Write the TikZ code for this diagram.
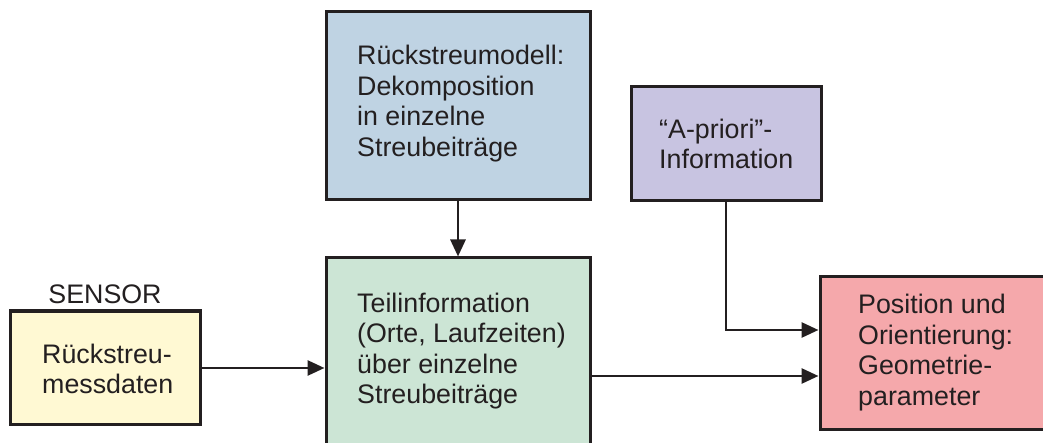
\documentclass[tikz,border=0pt]{standalone}
\usepackage{fontspec}
\setmainfont{Liberation Sans}
\usetikzlibrary{arrows.meta,positioning}
\definecolor{edge}{HTML}{231F20}
\definecolor{modelblue}{HTML}{BFD3E3}
\definecolor{sensoryellow}{HTML}{FFF9D3}
\definecolor{partgreen}{HTML}{CCE5D5}
\definecolor{priorviolet}{HTML}{C8C4E1}
\definecolor{resultpink}{HTML}{F5A8AB}
\tikzset{
  blockbox/.style={draw=edge, line width=3pt, rectangle, inner sep=0pt},
  blocktext/.style={anchor=west, align=left, inner sep=0pt,
    font=\fontsize{26.8}{30.5}\selectfont, text=edge},
  flow/.style={draw=edge, line width=2.8pt,
    -{Triangle[length=17pt,width=15pt]}},
}
\begin{document}
\begin{tikzpicture}[x=1pt,y=-1pt]
  \useasboundingbox (0,0) rectangle (1043,443);
  \clip (0,0) rectangle (1043,443);
  % blocks
  \node[blockbox, fill=modelblue, minimum width=264pt, minimum height=188pt]
    (model) at (458,106) {};
  \node[blockbox, fill=sensoryellow, minimum width=190pt, minimum height=113pt]
    (sensor) at (105,367.5) {};
  \node[blockbox, fill=partgreen, minimum width=264pt, minimum height=188pt]
    (part) at (458,352) {};
  \node[blockbox, fill=priorviolet, minimum width=190pt, minimum height=114pt]
    (prior) at (726,144) {};
  \node[blockbox, fill=resultpink, minimum width=230pt, minimum height=152pt]
    (result) at (935,353) {};
  % texts
  \node[blocktext] (modeltxt) at (357,103.5)
    {Rückstreumodell:\\Dekomposition\\in einzelne\\Streubeiträge};
  \node[blocktext] (sensortxt) at (42,369)
    {Rückstreu-\\messdaten};
  \node[blocktext] (parttxt) at (357,351)
    {Teilinformation\\(Orte, Laufzeiten)\\über einzelne\\Streubeiträge};
  \node[blocktext] (priortxt) at (659,144)
    {“A-priori”-\\Information};
  \node[blocktext] (resulttxt) at (858,352.5)
    {Position und\\Orientierung:\\Geometrie-\\parameter};
  \node[blocktext, anchor=center] (sensorlabel) at (105,294) {SENSOR};
  % connectors
  \coordinate (bend) at (726,330);
  \draw[flow] (model.south) -- (part.north);
  \draw[flow] (sensor.east |- 0,368) -- (part.west |- 0,368);
  \draw[flow] (part.east |- 0,376) -- (result.west |- 0,376);
  \draw[flow] (prior.south) -- (bend) -- (result.west |- bend);
\end{tikzpicture}
\end{document}
